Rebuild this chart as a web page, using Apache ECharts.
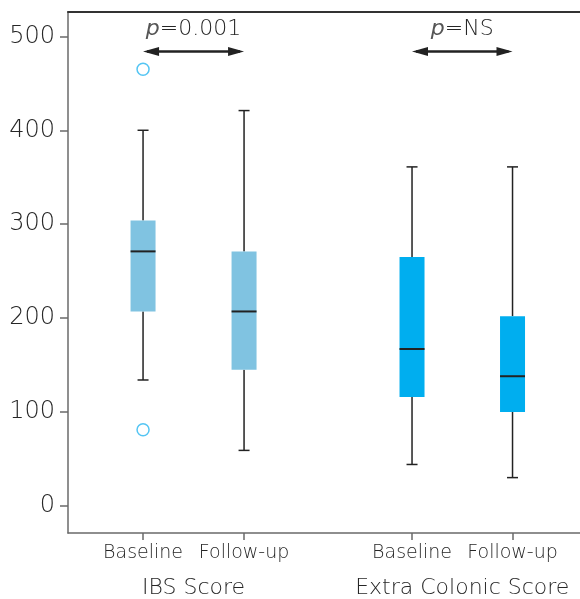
<!DOCTYPE html>
<html>
<head>
<meta charset="utf-8">
<script src="https://cdn.jsdelivr.net/npm/echarts@6/dist/echarts.min.js"></script>
<style>
  html, body { margin: 0; padding: 0; background: #fff; }
  #chart { width: 580px; height: 599px; }
</style>
</head>
<body>
<div id="chart"></div>
<script>
// Groups and timepoints
const groups = ['IBS Score', 'Extra Colonic Score'];
const timepoints = ['Baseline', 'Follow-up', 'Baseline', 'Follow-up'];
// x slot of each box along the value axis
const slots = [1, 2, 3.663, 4.658];

// Box statistics: [low whisker, Q1, median, Q3, high whisker]
const ibsBaseline = [134, 207, 271, 304, 400];
const ibsFollowup = [59, 145, 207, 271, 421];
const ecsBaseline = [44, 116, 167, 265, 361];
const ecsFollowup = [30, 100, 138, 202, 361];
const boxStats = [ibsBaseline, ibsFollowup, ecsBaseline, ecsFollowup];

// Outliers: [box index, value]
const outliers = [[0, 465], [0, 81]];

// Pairwise comparison labels
const pLabels = ['0.001', 'NS'];
const yTicks = [0, 100, 200, 300, 400, 500];

const boxColors = ['#80c3e1', '#80c3e1', '#00aeef', '#00aeef'];
const textColor = '#262626';
const fontFamily = '"DejaVu Sans", "Noto Sans", sans-serif';
const fontWeight = 200;

const chart = echarts.init(document.getElementById('chart'), null, { renderer: 'canvas' });

const boxData = boxStats.map((s, i) => [slots[i]].concat(s));
const xMin = 0.257, xMax = 5.326;

const option = {
  animation: false,
  grid: { left: 68, right: 0, top: 12, bottom: 66 },
  xAxis: [
    {
      type: 'value', min: xMin, max: xMax, position: 'bottom',
      splitLine: { show: false },
      axisLine: { show: true, onZero: false, lineStyle: { color: '#6a6a6a', width: 1.5 } },
      axisTick: { show: true, length: 7, inside: false, customValues: slots, lineStyle: { color: '#6a6a6a', width: 1.5 } },
      axisLabel: {
        show: true, customValues: slots, margin: 11,
        color: textColor, fontSize: 19, fontFamily: fontFamily, fontWeight: fontWeight,
        formatter: v => { const i = slots.indexOf(v); return i >= 0 ? timepoints[i] : ''; }
      }
    },
    {
      type: 'value', min: xMin, max: xMax, position: 'top',
      splitLine: { show: false },
      axisLine: { show: true, onZero: false, lineStyle: { color: '#333', width: 2 } },
      axisTick: { show: false }, axisLabel: { show: false }
    }
  ],
  yAxis: {
    type: 'value', min: -29, max: 526,
    splitLine: { show: false },
    axisLine: { show: true, onZero: false, lineStyle: { color: '#6a6a6a', width: 1.5 } },
    axisTick: { show: true, length: 8, customValues: yTicks, lineStyle: { color: '#6a6a6a', width: 1.5 } },
    axisLabel: { show: true, customValues: yTicks, margin: 13, color: textColor, fontSize: 24, fontFamily: fontFamily, fontWeight: fontWeight }
  },
  series: [
    {
      // boxes, whiskers and medians
      type: 'custom',
      coordinateSystem: 'cartesian2d',
      data: boxData,
      encode: { x: 0, y: [1, 2, 3, 4, 5] },
      renderItem: (params, api) => {
        const x = api.value(0);
        const lo = api.coord([x, api.value(1)]);
        const q1 = api.coord([x, api.value(2)]);
        const md = api.coord([x, api.value(3)]);
        const q3 = api.coord([x, api.value(4)]);
        const hi = api.coord([x, api.value(5)]);
        const cx = lo[0];
        const halfW = 12.5, capW = 5.5;
        const line = { stroke: '#222', lineWidth: 1.5 };
        return {
          type: 'group',
          children: [
            { type: 'line', shape: { x1: cx, y1: hi[1], x2: cx, y2: q3[1] }, style: line },
            { type: 'line', shape: { x1: cx, y1: q1[1], x2: cx, y2: lo[1] }, style: line },
            { type: 'line', shape: { x1: cx - capW, y1: hi[1], x2: cx + capW, y2: hi[1] }, style: line },
            { type: 'line', shape: { x1: cx - capW, y1: lo[1], x2: cx + capW, y2: lo[1] }, style: line },
            { type: 'rect', shape: { x: cx - halfW, y: q3[1], width: 2 * halfW, height: q1[1] - q3[1] },
              style: { fill: boxColors[params.dataIndex] } },
            { type: 'line', shape: { x1: cx - halfW, y1: md[1], x2: cx + halfW, y2: md[1] },
              style: { stroke: '#222', lineWidth: 2 } }
          ]
        };
      },
      z: 3
    },
    {
      // outlying values
      type: 'scatter',
      data: outliers.map(o => [slots[o[0]], o[1]]),
      symbol: 'circle', symbolSize: 12,
      itemStyle: { color: '#fff', borderColor: '#29b6f0', borderWidth: 1.5 },
      z: 4
    },
    {
      // comparison arrows with p-values, and group captions
      type: 'custom',
      coordinateSystem: 'cartesian2d',
      data: [[0], [1]],
      renderItem: (params, api) => {
        const g = params.dataIndex;
        const a = slots[2 * g], b = slots[2 * g + 1];
        const pa = api.coord([a, 484]);
        const pb = api.coord([b, 484]);
        const axisBottom = params.coordSys.y + params.coordSys.height;
        const ay = pa[1];
        const head = 16, hh = 4.5;
        const mid = (pa[0] + pb[0]) / 2;
        return {
          type: 'group',
          children: [
            { type: 'line', shape: { x1: pa[0] + 4, y1: ay, x2: pb[0] - 4, y2: ay },
              style: { stroke: '#222', lineWidth: 2.5 } },
            { type: 'polygon', shape: { points: [[pa[0], ay], [pa[0] + head, ay - hh], [pa[0] + head, ay + hh]] },
              style: { fill: '#222' } },
            { type: 'polygon', shape: { points: [[pb[0], ay], [pb[0] - head, ay - hh], [pb[0] - head, ay + hh]] },
              style: { fill: '#222' } },
            { type: 'text', x: mid, y: ay - 22,
              style: {
                text: '{i|p}=' + pLabels[g],
                rich: { i: { fontStyle: 'italic', fontSize: 22, fontFamily: fontFamily, fontWeight: fontWeight, fill: '#555' } },
                fontSize: 22, fontFamily: fontFamily, fontWeight: fontWeight, fill: textColor,
                align: 'center', verticalAlign: 'middle'
              } },
            { type: 'text', x: mid, y: axisBottom + 55,
              style: {
                text: groups[g], fontSize: 22, fontFamily: fontFamily, fontWeight: fontWeight, fill: textColor,
                align: 'center', verticalAlign: 'middle'
              } }
          ]
        };
      },
      z: 5
    }
  ]
};

chart.setOption(option);
</script>
</body>
</html>
